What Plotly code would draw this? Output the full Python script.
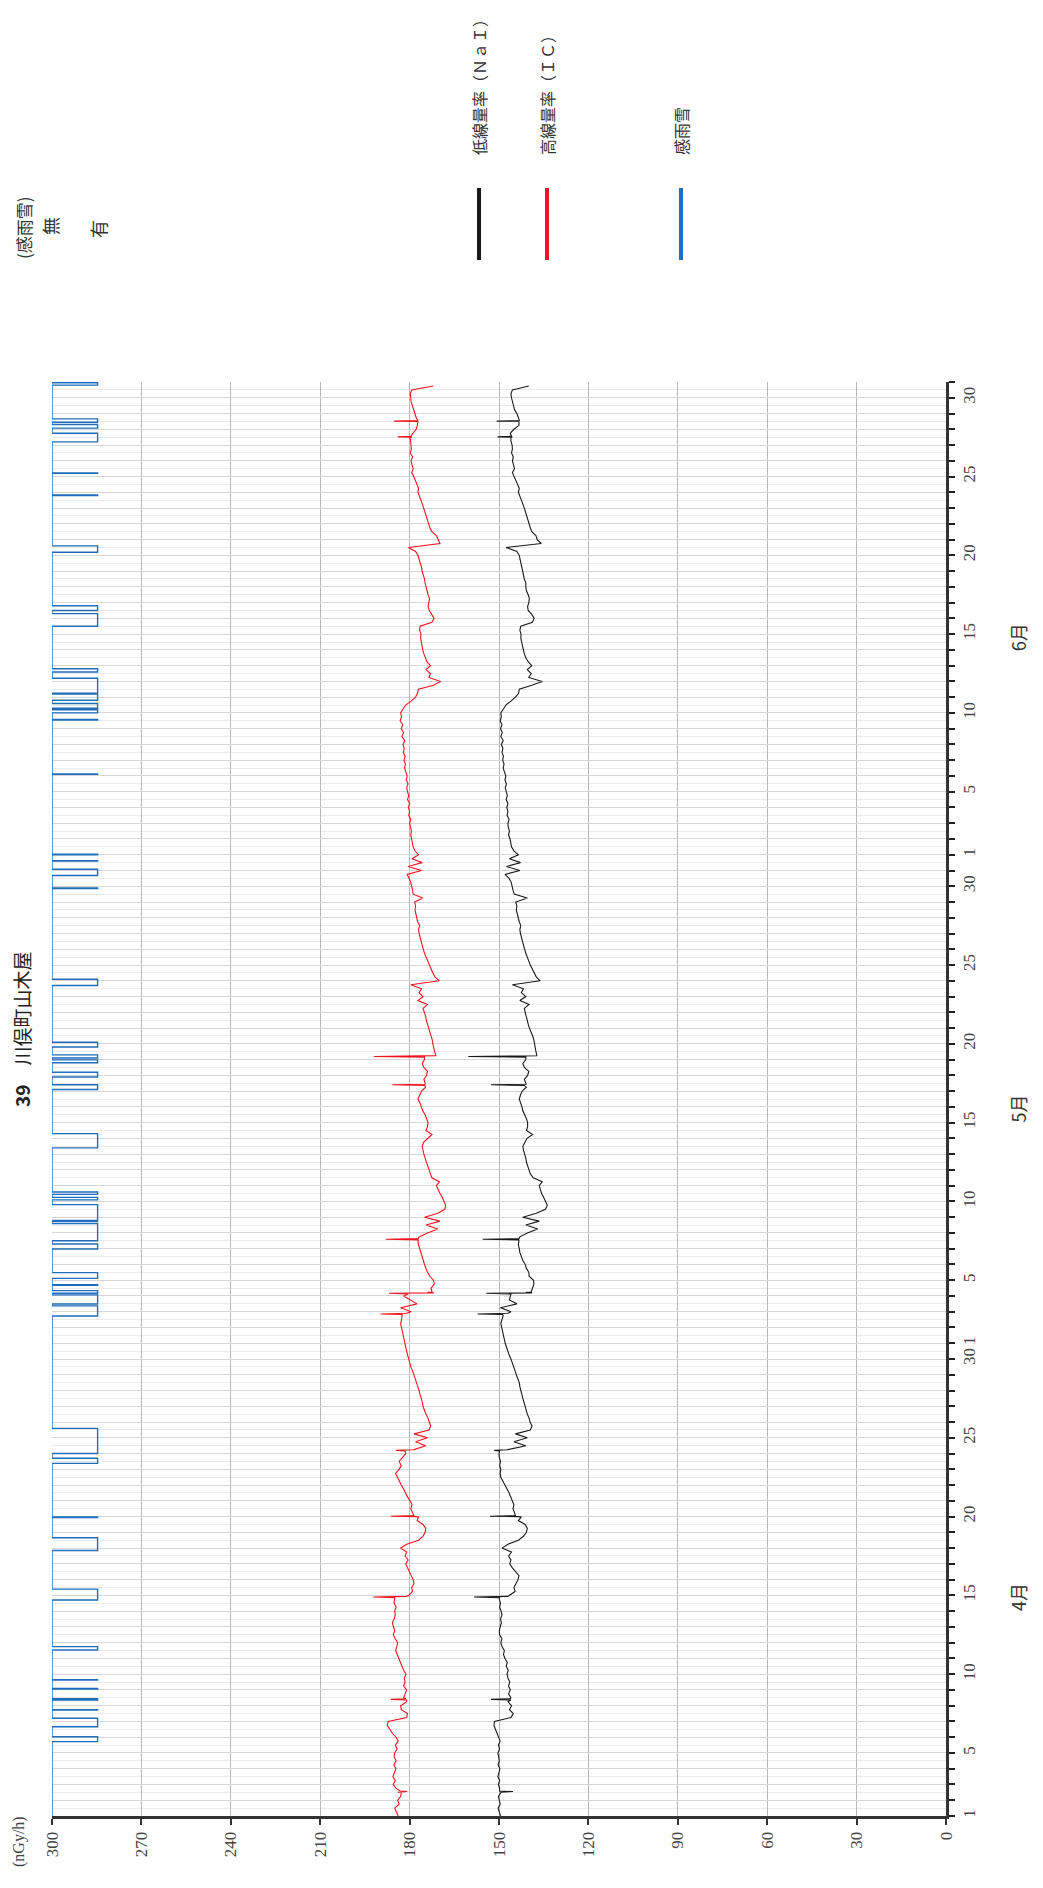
import numpy as np
import plotly.graph_objects as go

# ---------------- data ----------------
# day index 0 = April 1 ; each row = one day, samples at 00h, 06h, 12h, 18h
nai_q = [
    [149.5, 149.9, 150.3, 149.6], [149.8, 150.2, 149.3, 149.8], [150.2, 149.8, 150.4, 150.0],
    [149.7, 150.3, 149.9, 150.1], [150.4, 149.8, 150.2, 149.6], [150.2, 150.6, 151.2, 151.7],
    [151.5, 146.0, 145.2, 146.5], [145.8, 147.0, 146.0, 146.8], [146.2, 146.8, 146.4, 147.0],
    [147.3, 146.9, 147.6, 147.2], [148.0, 148.5, 148.2, 149.0], [149.4, 149.0, 149.8, 149.9],
    [149.6, 149.2, 149.5, 149.0], [149.3, 149.8, 149.5, 149.9], [146.5, 144.6, 145.0, 144.3],
    [143.6, 143.3, 144.5, 145.5], [146.4, 146.0, 146.8, 145.8], [149.0, 147.0, 143.5, 141.8],
    [140.8, 140.5, 141.2, 143.5], [144.0, 144.8, 145.3, 145.0], [145.5, 146.2, 146.6, 147.3],
    [148.0, 148.8, 149.4, 149.6], [149.4, 149.8, 149.5, 149.9], [150.0, 147.0, 141.0, 145.0],
    [140.5, 144.5, 139.5, 138.9], [139.6, 139.9, 140.5, 140.8], [141.3, 141.6, 142.0, 142.4],
    [142.7, 143.0, 143.2, 143.8], [144.2, 144.6, 145.0, 145.6], [146.0, 146.6, 147.1, 147.6],
    [147.9, 148.2, 148.5, 148.9], [149.1, 149.4, 149.0, 148.6], [146.0, 149.5, 144.0, 146.5],
    [146.0, 139.2, 138.8, 138.3], [138.4, 139.9, 140.0, 140.8], [141.2, 142.0, 142.5, 143.0],
    [143.2, 143.5, 143.3, 143.0], [140.5, 137.0, 141.0, 136.5], [142.0, 137.5, 134.4, 133.8],
    [134.3, 135.0, 135.7, 136.2], [136.5, 135.5, 138.5, 139.5], [140.0, 140.5, 140.8, 141.0],
    [141.5, 141.8, 142.0, 141.4], [140.6, 138.7, 140.8, 140.4], [140.4, 140.8, 141.4, 142.0],
    [142.3, 142.8, 143.2, 142.8], [142.2, 140.8, 141.0, 141.5], [140.4, 140.0, 141.5, 142.0],
    [141.0, 137.3, 137.6, 137.8], [138.0, 138.3, 138.7, 139.3], [139.8, 140.2, 140.6, 140.8],
    [141.2, 141.5, 139.9, 143.0], [141.0, 142.5, 141.8, 145.5], [136.2, 137.5, 138.2, 138.8],
    [139.5, 140.0, 140.6, 141.0], [141.4, 141.8, 142.1, 142.5], [142.8, 143.0, 142.7, 143.2],
    [143.6, 143.9, 144.2, 144.0], [144.4, 140.5, 144.9, 145.3], [145.5, 145.9, 146.6, 148.0],
    [143.0, 147.5, 142.8, 146.5], [143.5, 145.0, 145.8, 146.0], [146.3, 146.8, 146.5, 146.9],
    [147.0, 146.6, 147.3, 147.0], [147.4, 147.0, 147.6, 147.2], [147.5, 147.9, 147.5, 148.0],
    [147.7, 148.2, 148.6, 148.3], [148.8, 148.5, 149.0, 148.7], [149.2, 148.6, 149.4, 148.9],
    [149.5, 149.0, 149.6, 149.2], [149.4, 148.5, 147.7, 146.0], [144.5, 143.4, 143.2, 139.0],
    [135.5, 140.0, 139.2, 140.5], [139.0, 140.2, 141.0, 141.5], [141.8, 142.1, 142.4, 142.7],
    [142.6, 143.0, 142.7, 138.8], [138.2, 139.0, 140.2, 140.4], [140.0, 139.8, 140.2, 140.8],
    [141.0, 141.0, 141.5, 141.8], [142.0, 142.3, 142.6, 143.0], [143.2, 144.0, 147.6, 135.8],
    [137.2, 137.6, 139.0, 139.5], [139.9, 140.3, 140.5, 141.0], [141.5, 142.0, 142.5, 143.2],
    [143.5, 143.2, 143.8, 144.3], [145.0, 145.5, 144.8, 145.2], [145.5, 145.2, 145.8, 145.5],
    [145.6, 146.0, 145.5, 146.2], [145.0, 143.3, 143.2, 143.5], [144.0, 144.8, 145.2, 145.5],
    [145.8, 146.0, 145.5, 140.0],
]

ic_q = [
    [183.8, 184.5, 185.0, 183.5], [184.0, 183.0, 182.8, 184.5], [185.5, 184.8, 185.6, 185.0],
    [184.6, 185.3, 184.5, 185.2], [185.0, 184.2, 184.8, 183.8], [184.5, 185.8, 186.8, 187.5],
    [187.2, 181.0, 180.7, 182.8], [183.0, 181.0, 182.0, 181.5], [181.0, 182.0, 181.5, 181.8],
    [181.2, 182.0, 182.5, 183.0], [183.5, 184.2, 184.7, 184.3], [184.0, 184.8, 185.5, 185.0],
    [185.3, 185.8, 185.2, 184.8], [185.0, 184.5, 185.2, 184.9], [180.2, 179.0, 179.3, 178.5],
    [178.8, 179.5, 180.0, 180.7], [181.3, 180.5, 181.5, 181.0], [183.0, 181.0, 177.0, 175.5],
    [174.8, 174.6, 175.5, 177.5], [178.0, 179.0, 179.6, 179.2], [179.8, 180.7, 181.3, 182.0],
    [182.8, 183.5, 184.1, 184.7], [183.5, 182.8, 183.5, 182.5], [181.3, 178.5, 174.6, 178.0],
    [174.0, 178.5, 173.5, 172.9], [173.4, 173.8, 174.5, 175.0], [175.5, 175.7, 176.2, 176.5],
    [176.8, 177.2, 177.6, 178.0], [178.5, 179.0, 179.6, 180.0], [180.2, 180.7, 181.0, 181.3],
    [181.6, 181.9, 182.2, 182.5], [182.8, 183.0, 182.7, 182.4], [179.5, 183.0, 177.5, 180.0],
    [182.0, 172.5, 172.8, 171.7], [172.0, 173.2, 174.0, 174.6], [175.0, 175.4, 175.8, 176.3],
    [176.6, 177.0, 177.2, 176.8], [174.0, 170.5, 174.5, 169.8], [175.0, 170.5, 168.2, 167.9],
    [168.4, 169.0, 169.8, 170.5], [171.0, 170.0, 172.5, 173.0], [173.5, 174.0, 174.3, 174.8],
    [175.2, 175.6, 175.8, 175.3], [174.0, 172.5, 174.5, 174.0], [173.8, 174.2, 174.8, 175.6],
    [176.0, 176.5, 177.2, 176.6], [176.0, 174.6, 174.8, 175.2], [174.3, 174.0, 175.2, 175.8],
    [175.0, 171.2, 171.6, 172.0], [172.2, 172.4, 172.8, 173.4], [173.8, 174.0, 174.4, 174.6],
    [175.0, 175.5, 174.0, 177.2], [175.5, 176.8, 176.0, 179.6], [170.0, 171.5, 172.2, 172.8],
    [173.4, 174.0, 174.6, 175.0], [175.4, 175.8, 176.0, 176.4], [176.8, 177.0, 176.6, 177.3],
    [177.6, 177.8, 178.2, 178.0], [178.3, 175.6, 178.8, 179.0], [179.2, 179.6, 180.2, 180.8],
    [176.0, 180.5, 175.8, 179.2], [177.0, 178.2, 178.8, 179.0], [179.2, 179.6, 179.4, 179.8],
    [180.0, 179.6, 180.3, 180.0], [180.4, 180.0, 180.7, 180.3], [180.6, 181.0, 180.5, 181.1],
    [180.8, 181.3, 181.7, 181.4], [181.9, 181.5, 182.1, 181.8], [182.2, 181.6, 182.6, 182.0],
    [182.8, 182.3, 183.2, 182.7], [183.0, 182.2, 181.3, 179.5], [178.0, 177.4, 177.0, 172.0],
    [169.6, 173.5, 173.0, 174.5], [173.0, 174.2, 174.8, 175.2], [175.6, 175.8, 176.0, 176.3],
    [176.2, 176.6, 176.5, 172.5], [171.8, 172.5, 173.4, 173.8], [173.5, 173.3, 173.8, 174.2],
    [174.5, 174.8, 175.0, 175.5], [175.8, 176.0, 176.4, 176.8], [177.2, 178.0, 180.4, 169.8],
    [170.5, 171.0, 172.5, 173.2], [173.6, 174.0, 174.3, 174.8], [175.3, 175.7, 176.2, 176.8],
    [177.2, 177.0, 177.5, 178.0], [178.6, 179.3, 178.8, 179.2], [179.5, 179.0, 179.8, 179.4],
    [179.5, 179.8, 179.2, 178.8], [177.8, 177.4, 177.2, 177.8], [178.2, 178.8, 179.2, 179.5],
    [179.6, 179.8, 179.3, 172.0],
]

# short spikes (time in days, NaI, IC)
spike_t = [1.51, 1.55, 1.59, 7.36, 7.40, 7.44, 13.86, 13.90, 13.94, 18.98, 19.02, 19.06,
           23.16, 23.20, 23.24, 31.82, 31.86, 31.90, 33.13, 33.17, 33.20, 33.24,
           36.56, 36.60, 36.64, 46.36, 46.40, 46.44, 48.16, 48.20, 48.24,
           87.48, 87.52, 87.56, 88.48, 88.52, 88.56]
spike_nai = [149.6, 145.3, 149.8, 146.0, 152.7, 146.2, 149.8, 158.4, 147.0, 142.5, 153.0, 144.5,
             149.8, 151.6, 147.5, 148.8, 157.2, 147.0, 146.0, 154.3, 138.9, 141.0,
             143.4, 155.5, 143.3, 141.5, 152.7, 140.8, 141.0, 160.3, 137.2,
             146.0, 150.5, 145.8, 143.3, 150.8, 143.2]
spike_ic = [184.0, 180.8, 183.2, 181.0, 186.3, 181.2, 185.0, 192.2, 181.0, 177.0, 186.3, 178.5,
            181.5, 184.6, 179.0, 182.5, 189.7, 181.0, 180.5, 186.9, 171.8, 174.0,
            177.0, 188.0, 177.2, 175.0, 185.8, 174.6, 175.0, 192.0, 171.2,
            179.8, 184.0, 179.6, 177.4, 185.3, 177.3]

# rain / snow detection periods (start, end) in days
rain_start = [4.72, 5.66, 6.72, 7.36, 8.06, 8.62, 10.53, 13.71, 16.85, 18.94, 22.38, 23.00,
              31.73, 32.49, 33.17, 33.68, 34.12, 35.98, 36.50, 37.74, 37.80, 39.10, 39.45,
              42.40, 46.10, 46.90, 47.80, 48.10, 48.80, 52.70, 58.86, 59.68, 60.60, 61.00,
              66.10, 69.55, 70.00, 70.30, 70.80, 71.25, 72.60, 75.50, 76.50, 80.20, 83.80,
              85.20, 87.20, 88.07, 88.45, 90.80]
rain_end = [5.03, 6.20, 6.75, 7.44, 8.09, 8.65, 10.75, 14.40, 17.66, 18.97, 22.70, 24.60,
            32.37, 33.07, 33.34, 33.71, 34.48, 36.30, 37.60, 37.77, 38.80, 39.26, 39.60,
            43.30, 46.40, 47.20, 47.98, 48.30, 49.10, 53.10, 58.89, 60.08, 60.63, 61.03,
            66.13, 69.58, 70.20, 70.60, 71.20, 72.20, 72.80, 76.30, 76.80, 80.60, 83.83,
            85.23, 87.75, 88.30, 88.66, 90.95]

value_ticks = [0, 30, 60, 90, 120, 150, 180, 210, 240, 270, 300]
month_lengths = [30, 31, 30]
labelled_days = [1, 5, 10, 15, 20, 25, 30]
month_labels = ["4月", "5月", "6月"]
month_label_pos = [13.9, 44.9, 74.8]

# ---------------- build series ----------------
n_days = len(nai_q)
q_t = [d + k * 0.25 for d in range(n_days) for k in range(4)]
q_nai = [v for row in nai_q for v in row]
q_ic = [v for row in ic_q for v in row]
t_all = np.array(q_t + spike_t)
order = np.argsort(t_all, kind="stable")
t_s = t_all[order]
nai_s = np.array(q_nai + spike_nai)[order]
ic_s = np.array(q_ic + spike_ic)[order]

rain_t = [0.0]
rain_f = [0]
for s, e in zip(rain_start, rain_end):
    rain_t += [s, e]
    rain_f += [1, 0]
rain_t.append(float(sum(month_lengths)))
rain_f.append(0)

tickvals = list(range(sum(month_lengths) + 1))
ticktext = []
for ml in month_lengths:
    for day in range(1, ml + 1):
        ticktext.append(str(day) if day in labelled_days else "")
ticktext.append("")

FONT = "Liberation Serif, Noto Sans CJK JP, serif"
CJK = "Noto Sans CJK JP, sans-serif"
BLACK = "#1a1a1a"
RED = "#f0141e"
BLUE = "#1f6dbd"

fig = go.Figure()
fig.add_trace(go.Scatter(x=rain_f, y=rain_t, mode="lines", line=dict(color=BLUE, width=1.4, shape="vh"),
                         xaxis="x2", yaxis="y", hoverinfo="skip"))
fig.add_trace(go.Scatter(x=ic_s, y=t_s, mode="lines", line=dict(color=RED, width=1.1)))
fig.add_trace(go.Scatter(x=nai_s, y=t_s, mode="lines", line=dict(color=BLACK, width=1.1)))

# page has an 8px body margin: figure is sized / offset so the plot area
# lands at page x 52..946 and y 382..1816
fig.update_layout(
    width=1027, height=1872,
    margin=dict(l=44, r=89, t=374, b=64),
    plot_bgcolor="white", paper_bgcolor="white",
    showlegend=False,
    font=dict(family=FONT, size=17, color="#333"),
    xaxis=dict(
        range=[300, 0], tickmode="array", tickvals=value_ticks,
        ticktext=[str(v) for v in value_ticks], tickangle=-90,
        ticks="outside", ticklen=6, tickwidth=1.5, tickcolor="#333",
        showline=True, linecolor="#333", linewidth=3,
        showgrid=True, gridcolor="#b8b8b8", gridwidth=1, zeroline=False,
        tickfont=dict(family=FONT, size=17, color="#444"),
    ),
    xaxis2=dict(overlaying="x", range=[0, 19.6], visible=False, anchor="y"),
    yaxis=dict(
        range=[0, sum(month_lengths)], side="right", tickmode="array",
        tickvals=tickvals, ticktext=ticktext, tickangle=-90,
        ticks="outside", ticklen=6, tickwidth=2, tickcolor="#222",
        showline=True, linecolor="#333", linewidth=3,
        showgrid=True, gridcolor="#d6d6d6", gridwidth=1, zeroline=False,
        minor=dict(tickmode="linear", tick0=0.5, dtick=1, showgrid=True,
                   gridcolor="#ebebeb", gridwidth=1, ticks=""),
        tickfont=dict(family=FONT, size=17, color="#444"),
    ),
)

def px_x(px):
    return (px - 52) / 894.0

def px_y(py):
    return (1816 - py) / 1434.0

ann = []
# title
ann.append(dict(text="<b>39</b>　川俣町山木屋", x=px_x(22), y=px_y(1030), xref="paper", yref="paper",
                textangle=-90, showarrow=False, xanchor="center", yanchor="middle",
                font=dict(family=CJK, size=19, color="#222")))
# unit
ann.append(dict(text="(nGy/h)", x=px_x(19), y=px_y(1842), xref="paper", yref="paper",
                textangle=-90, showarrow=False, xanchor="center", yanchor="middle",
                font=dict(family=FONT, size=16, color="#444")))
# months
for lab, pos in zip(month_labels, month_label_pos):
    ann.append(dict(text=lab, x=px_x(1018), y=pos, xref="paper", yref="y", textangle=-90,
                    showarrow=False, xanchor="center", yanchor="middle",
                    font=dict(family=CJK, size=18, color="#333")))
# rain legend (top-left)
ann.append(dict(text="(感雨雪)", x=px_x(23), y=px_y(228), xref="paper", yref="paper", textangle=-90,
                showarrow=False, xanchor="center", yanchor="middle", font=dict(family=CJK, size=17, color="#333")))
ann.append(dict(text="無", x=px_x(50), y=px_y(226), xref="paper", yref="paper", textangle=-90,
                showarrow=False, xanchor="center", yanchor="middle", font=dict(family=CJK, size=18, color="#333")))
ann.append(dict(text="有", x=px_x(98), y=px_y(229), xref="paper", yref="paper", textangle=-90,
                showarrow=False, xanchor="center", yanchor="middle", font=dict(family=CJK, size=18, color="#333")))
# series legend
legend_items = [("低線量率（ＮａＩ）", 479, BLACK), ("高線量率（ＩＣ）", 547, RED), ("感雨雪", 681, BLUE)]
shapes = []
for text, xp, col in legend_items:
    ann.append(dict(text=text, x=px_x(xp), y=px_y(157), xref="paper", yref="paper", textangle=-90,
                    showarrow=False, xanchor="center", yanchor="bottom",
                    font=dict(family=CJK, size=16, color="#333")))
    shapes.append(dict(type="line", xref="paper", yref="paper", x0=px_x(xp), x1=px_x(xp),
                       y0=px_y(188), y1=px_y(260), line=dict(color=col, width=4)))

fig.update_layout(annotations=ann, shapes=shapes)
fig.write_html("out.html")
